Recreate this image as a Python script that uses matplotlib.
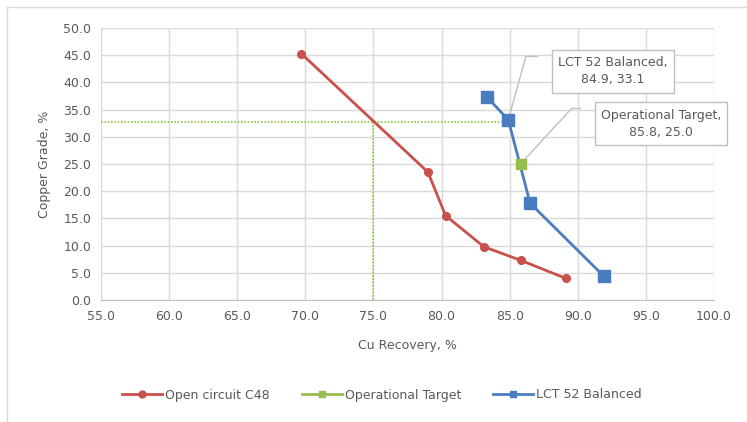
import matplotlib.pyplot as plt
from matplotlib.lines import Line2D

plt.rcParams['font.family'] = ['DejaVu Sans']

# grade / recovery data
open_rec = [69.7, 79.0, 80.3, 83.1, 85.8, 89.1]
open_grade = [45.3, 23.5, 15.5, 9.8, 7.3, 4.0]

lct_rec = [83.3, 84.9, 86.5, 91.9]
lct_grade = [37.4, 33.1, 17.8, 4.4]

target_rec = [85.8]
target_grade = [25.0]

# guide lines at 75 % recovery
guide_rec = 75.0
guide_grade = 32.7
guide_rec_end = 85.3

x_ticks = [55, 60, 65, 70, 75, 80, 85, 90, 95, 100]
y_ticks = [0, 5, 10, 15, 20, 25, 30, 35, 40, 45, 50]

red = '#C9504B'
green = '#96BE4E'
guide_green = '#8DC63F'
blue = '#4A7DC0'
txt = '#595959'
W, H = 747, 422

fig = plt.figure(figsize=(W / 100, H / 100), dpi=100)
ax = fig.add_axes([101 / W, 1 - 300 / H, 613 / W, 272 / H])

ax.plot(open_rec, open_grade, color=red, lw=2, marker='o', ms=5.5, zorder=4)
ax.plot(lct_rec, lct_grade, color=blue, lw=2, marker='s', ms=8.5, zorder=4)
ax.plot(target_rec, target_grade, color=green, lw=2, marker='s', ms=7.5, zorder=5,
        linestyle='none')

ax.plot([55, guide_rec_end], [guide_grade, guide_grade], color=guide_green, lw=1.2,
        linestyle=(0, (1, 1)), zorder=3)
ax.plot([guide_rec, guide_rec], [0, guide_grade], color=guide_green, lw=1.2,
        linestyle=(0, (1, 1)), zorder=3)

ax.set_xlim(55, 100)
ax.set_ylim(0, 50)
ax.set_xticks(x_ticks)
ax.set_yticks(y_ticks)
ax.set_xticklabels([f'{v:.1f}' for v in x_ticks])
ax.set_yticklabels([f'{v:.1f}' for v in y_ticks])
ax.tick_params(length=0, colors=txt, labelsize=9, pad=7)
ax.grid(True, color='#D9D9D9', lw=1)
ax.set_axisbelow(True)
for side in ['top', 'right', 'left']:
    ax.spines[side].set_visible(False)
ax.spines['bottom'].set_color('#BFBFBF')

ax.set_xlabel('Cu Recovery, %', color=txt, fontsize=9, labelpad=12)
ax.set_ylabel('Copper Grade, %', color=txt, fontsize=9, labelpad=9)

# data callouts with bent leader lines
box = dict(boxstyle='square,pad=0.5', fc='white', ec='#BFBFBF', lw=1)
lead = '#BFBFBF'


def callout(text, x, y, box_xy, bend_xy, end_x):
    ax.text(box_xy[0] / W, 1 - box_xy[1] / H, text, transform=fig.transFigure,
            ha='center', va='center', fontsize=9, color=txt, bbox=box,
            zorder=6, linespacing=1.45)
    ax.annotate('', xy=(x, y), xytext=(bend_xy[0] / W, 1 - bend_xy[1] / H),
                textcoords='figure fraction',
                arrowprops=dict(arrowstyle='-', color=lead, lw=1,
                                shrinkA=0, shrinkB=0), zorder=3)
    fig.add_artist(Line2D([bend_xy[0] / W, end_x / W],
                          [1 - bend_xy[1] / H, 1 - bend_xy[1] / H],
                          color=lead, lw=1))


callout(f'LCT 52 Balanced,\n{lct_rec[1]:.1f}, {lct_grade[1]:.1f}',
        lct_rec[1], lct_grade[1], (613, 71), (526, 56), 537)
callout(f'Operational Target,\n{target_rec[0]:.1f}, {target_grade[0]:.1f}',
        target_rec[0], target_grade[0], (661, 124), (572, 108), 580)

handles = [
    Line2D([], [], color=red, lw=2, marker='o', ms=5),
    Line2D([], [], color=green, lw=2, marker='s', ms=5),
    Line2D([], [], color=blue, lw=2, marker='s', ms=5),
]
leg = fig.legend(handles, ['Open circuit C48', 'Operational Target', 'LCT 52 Balanced'],
                 loc='center', bbox_to_anchor=(382 / W, 1 - 395 / H), ncol=3,
                 frameon=False, fontsize=9, handlelength=3.2, handletextpad=0.2,
                 columnspacing=2.6)
for t in leg.get_texts():
    t.set_color(txt)

# chart frame
fig.add_artist(Line2D([7 / W, 1], [1 - 7 / H, 1 - 7 / H], color='#D9D9D9', lw=1))
fig.add_artist(Line2D([7 / W, 7 / W], [0, 1 - 7 / H], color='#D9D9D9', lw=1))

fig.savefig('out.png', dpi=100)
